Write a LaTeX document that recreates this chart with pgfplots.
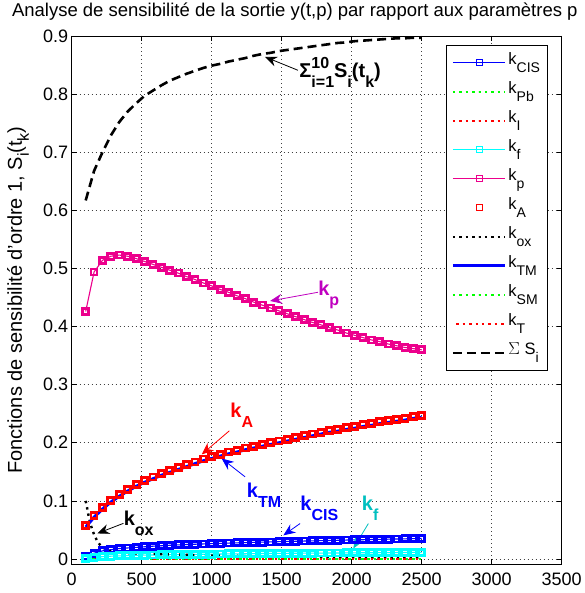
\documentclass[border=0pt]{standalone}
\usepackage{fontspec}
\setmainfont{Liberation Sans}
\usepackage{pgfplots}
\pgfplotsset{compat=1.18}
\usepackage{pgfplotstable}
\usetikzlibrary{arrows.meta}

\definecolor{mcyan}{rgb}{0,1,1}
\definecolor{dcyan}{rgb}{0,0.75,0.75}
\definecolor{dmag}{rgb}{0.75,0,0.75}
\newcommand{\dn}[3]{\raisebox{-#1}{\fontsize{#2}{#2}\selectfont #3}}

\pgfplotstableread{
x     CIS     f       p      A      TM     S      Z
100   0.0050  0.0010  0.426  0.058  0.055  0.617  0
160   0.0100  0.0030  0.494  0.075  0.072  0.668  0
220   0.0140  0.0040  0.514  0.089  0.086  0.700  0
280   0.0160  0.0048  0.521  0.101  0.098  0.729  0
340   0.0180  0.0054  0.523  0.111  0.108  0.752  0
400   0.0190  0.0059  0.521  0.120  0.117  0.770  0
460   0.0200  0.0063  0.517  0.128  0.125  0.784  0
520   0.0210  0.0066  0.512  0.135  0.132  0.797  0
580   0.0220  0.0069  0.507  0.141  0.138  0.806  0
640   0.0228  0.0072  0.502  0.147  0.144  0.815  0
700   0.0236  0.0074  0.497  0.152  0.149  0.823  0
760   0.0243  0.0076  0.492  0.157  0.154  0.829  0
820   0.0249  0.0078  0.486  0.162  0.159  0.835  0
880   0.0254  0.0080  0.481  0.167  0.164  0.840  0
940   0.0259  0.0082  0.475  0.172  0.169  0.845  0
1000  0.0264  0.0084  0.470  0.176  0.173  0.849  0
1060  0.0269  0.0086  0.464  0.180  0.177  0.852  0
1120  0.0274  0.0088  0.459  0.184  0.181  0.856  0
1180  0.0278  0.0089  0.453  0.187  0.184  0.859  0
1240  0.0282  0.0091  0.448  0.191  0.188  0.862  0
1300  0.0286  0.0092  0.442  0.194  0.191  0.866  0
1360  0.0290  0.0094  0.437  0.197  0.194  0.869  0
1420  0.0294  0.0095  0.432  0.200  0.197  0.871  0
1480  0.0298  0.0096  0.427  0.203  0.200  0.874  0
1540  0.0302  0.0098  0.422  0.206  0.203  0.876  0
1600  0.0305  0.0099  0.417  0.209  0.206  0.878  0
1660  0.0309  0.0100  0.412  0.212  0.209  0.880  0
1720  0.0312  0.0101  0.407  0.215  0.212  0.882  0
1780  0.0316  0.0102  0.403  0.218  0.215  0.884  0
1840  0.0319  0.0103  0.398  0.221  0.218  0.886  0
1900  0.0322  0.0104  0.394  0.223  0.220  0.888  0
1960  0.0326  0.0105  0.389  0.226  0.223  0.889  0
2020  0.0329  0.0106  0.385  0.228  0.225  0.891  0
2080  0.0332  0.0107  0.381  0.231  0.228  0.892  0
2140  0.0335  0.0108  0.377  0.233  0.230  0.893  0
2200  0.0338  0.0109  0.374  0.236  0.233  0.894  0
2260  0.0341  0.0110  0.370  0.238  0.235  0.895  0
2320  0.0344  0.0111  0.367  0.240  0.237  0.896  0
2380  0.0347  0.0112  0.364  0.242  0.239  0.896  0
2440  0.0350  0.0113  0.362  0.245  0.242  0.897  0
2500  0.0353  0.0114  0.360  0.247  0.244  0.897  0
}\data

\pgfplotstableread{
x     ox
100   0.100
110   0.088
120   0.075
130   0.064
145   0.052
160   0.042
180   0.032
200   0.025
220   0.020
250   0.016
280   0.013
340   0.011
400   0.010
520   0.009
700   0.008
1000  0.006
1500  0.004
2000  0.003
2500  0.002
}\oxdata

\begin{document}
\begin{tikzpicture}[x=1pt,y=1pt]
\pgfresetboundingbox
\path[use as bounding box] (-71.7,-29) rectangle (512.3,564);
\begin{axis}[
  at={(0,0)}, anchor=south west,
  scale only axis, width=490pt, height=528pt,
  xmin=0, xmax=3500, ymin=-0.0086, ymax=0.9,
  xtick={0,500,1000,1500,2000,2500,3000,3500},
  xticklabels={0,500,1000,1500,2000,2500,3000,3500},
  ytick={0,0.1,0.2,0.3,0.4,0.5,0.6,0.7,0.8,0.9},
  yticklabels={0,0.1,0.2,0.3,0.4,0.5,0.6,0.7,0.8,0.9},
  /pgf/number format/assume math mode=true,
  tick align=inside, major tick length=5pt,
  every tick/.style={black, line width=0.7pt},
  axis line style={line width=0.8pt},
  grid=major,
  major grid style={black!75, line width=0.6pt, dash pattern=on 1pt off 3pt},
  tick label style={font=\fontsize{18}{20}\selectfont},
  xticklabel style={anchor=base, yshift=-22pt},
  title={Analyse de sensibilité de la sortie y(t,p) par rapport aux paramètres p},
  title style={at={(axis description cs:0.4553,1)}, anchor=base, yshift=13pt, font=\fontsize{18.5}{22}\selectfont},
  ylabel={Fonctions de sensibilité d'ordre 1, S\dn{7pt}{16}{i}(t\dn{7pt}{16}{k})},
  ylabel style={at={(axis description cs:-0.1096,0.5)}, anchor=center, font=\fontsize{20}{24}\selectfont},
  legend image code/.code={\draw[mark repeat=2,mark phase=2,#1] plot coordinates {(0pt,0pt) (26pt,0pt) (52pt,0pt)};},
  legend image post style={mark options={line width=0.8pt, solid, mark size=3pt}},
  legend style={at={(rel axis cs:0.7639,0.983)}, anchor=north west, draw=black, line width=0.8pt,
    font=\fontsize{16.5}{18}\selectfont, cells={anchor=west}, row sep=0pt,
    inner xsep=5pt, inner ysep=3pt,
    nodes={inner sep=2pt, text height=14pt, text depth=11pt}},
  clip=false,
]
\addplot[blue, line width=1.1pt, mark=square, mark size=3pt, mark options={line width=2.8pt, solid}] table[x=x,y=CIS] {\data};
\addlegendentry{k\dn{8pt}{14}{CIS}}
\addplot[green, line width=2.4pt, dash pattern=on 2.4pt off 4pt] table[x=x,y=Z] {\data};
\addlegendentry{k\dn{8pt}{14}{Pb}}
\addplot[red, line width=2.4pt, dash pattern=on 2.4pt off 4pt] table[x=x,y=Z] {\data};
\addlegendentry{k\dn{8pt}{14}{I}}
\addplot[mcyan, line width=1.1pt, mark=square, mark size=3pt, mark options={line width=2.8pt, solid}] table[x=x,y=f] {\data};
\addlegendentry{k\dn{8pt}{14}{f}}
\addplot[magenta, line width=1.1pt, mark=square, mark size=3pt, mark options={line width=2.8pt, solid}] table[x=x,y=p] {\data};
\addlegendentry{k\dn{8pt}{14}{p}}
\addplot[red, only marks, mark=square, mark size=3pt, mark options={line width=2.8pt, solid}] table[x=x,y=A] {\data};
\addlegendentry{k\dn{8pt}{14}{A}}
\addplot[black, line width=2.4pt, dash pattern=on 2.4pt off 4pt] table[x=x,y=ox] {\oxdata};
\addlegendentry{k\dn{8pt}{14}{ox}}
\addplot[blue, line width=3pt] table[x=x,y=TM] {\data};
\addlegendentry{k\dn{8pt}{14}{TM}}
\addplot[green, line width=2.4pt, dash pattern=on 2.4pt off 4pt] table[x=x,y=Z] {\data};
\addlegendentry{k\dn{8pt}{14}{SM}}
\addplot[red, line width=2.4pt, dash pattern=on 2.4pt off 4pt, dash phase=3pt] table[x=x,y=Z] {\data};
\addlegendentry{k\dn{8pt}{14}{T}}
\addplot[black, line width=2.6pt, dash pattern=on 9pt off 5pt] table[x=x,y=S] {\data};
\addlegendentry{$\Sigma$ S\dn{8pt}{14}{i}}

% annotations
\begin{scope}[line width=0.8pt]
\draw[black, -{Stealth[length=12pt,width=10pt,inset=4pt]}] (axis cs:1616,0.841) -- (axis cs:1381,0.864);
\node[anchor=base west, inner sep=0pt, font=\fontsize{20}{24}\selectfont\bfseries] at (axis cs:1624,0.8294)
  {Σ\rlap{\raisebox{8.5pt}{\fontsize{16}{16}\selectfont 10}}\dn{10pt}{16}{i=1}S\dn{10pt}{16}{i}(t\dn{10pt}{16}{k})};
\draw[dmag, -{Stealth[length=12pt,width=10pt,inset=4pt]}] (axis cs:1759,0.459) -- (axis cs:1417,0.444);
\node[dmag, anchor=base west, inner sep=0pt, font=\fontsize{20}{24}\selectfont\bfseries] at (axis cs:1759,0.4542) {k\dn{10pt}{16}{p}};
\draw[red, -{Stealth[length=12pt,width=10pt,inset=4pt]}] (axis cs:1126,0.2206) -- (axis cs:929,0.180);
\node[red, anchor=base west, inner sep=0pt, font=\fontsize{20}{24}\selectfont\bfseries] at (axis cs:1131,0.2442) {k\dn{10pt}{16}{A}};
\draw[blue, -{Stealth[length=12pt,width=10pt,inset=4pt]}] (axis cs:1238,0.1415) -- (axis cs:1071,0.173);
\node[blue, anchor=base west, inner sep=0pt, font=\fontsize{20}{24}\selectfont\bfseries] at (axis cs:1249,0.1065) {k\dn{10pt}{16}{TM}};
\draw[blue, -{Stealth[length=12pt,width=10pt,inset=4pt]}] (axis cs:1631,0.061) -- (axis cs:1512,0.0407);
\node[blue, anchor=base west, inner sep=0pt, font=\fontsize{20}{24}\selectfont\bfseries] at (axis cs:1631,0.0842) {k\dn{10pt}{16}{CIS}};
\draw[dcyan, -{Stealth[length=12pt,width=10pt,inset=4pt]}] (axis cs:2119,0.061) -- (axis cs:2012,0.0182);
\node[dcyan, anchor=base west, inner sep=0pt, font=\fontsize{20}{24}\selectfont\bfseries] at (axis cs:2070,0.0842) {k\dn{10pt}{16}{f}};
\draw[black, -{Stealth[length=12pt,width=10pt,inset=4pt]}] (axis cs:369,0.0613) -- (axis cs:183,0.044);
\node[black, anchor=base west, inner sep=0pt, font=\fontsize{20}{24}\selectfont\bfseries] at (axis cs:369,0.0583) {k\dn{10pt}{16}{ox}};
\end{scope}
\end{axis}
\end{tikzpicture}
\end{document}
